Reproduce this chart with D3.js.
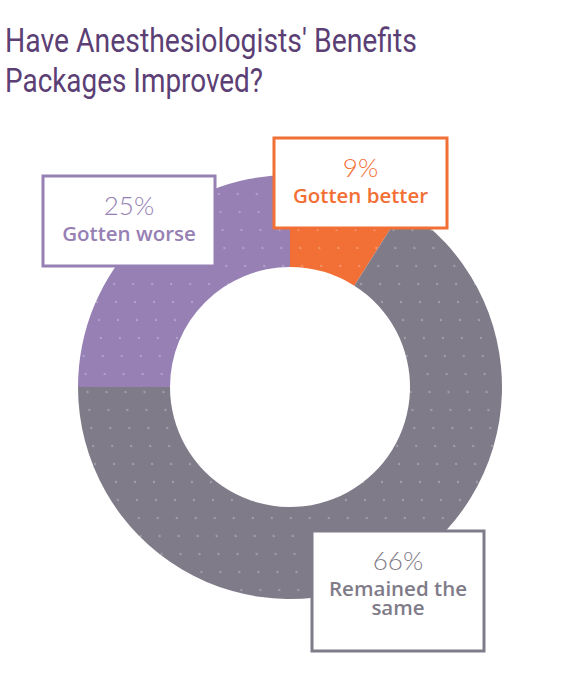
<!DOCTYPE html>
<html>
<head>
    <meta charset="UTF-8">
    <title>Benefits packages</title>
    <script src="https://cdn.jsdelivr.net/npm/d3@7"></script>
</head>
<style>
    body {
        margin: 0;
        padding: 0;
        background: #fff;
    }
</style>
<body>
<svg id="chart" width="580" height="690"></svg>
<script>
    // data
    var categories = ["Gotten better", "Remained the same", "Gotten worse"];
    var values = [9, 66, 25];
    var labelLines = [["Gotten better"], ["Remained the", "same"], ["Gotten worse"]];
    var colors = ["#f26f35", "#7f7b89", "#9680b4"];
    var titleLines = ["Have Anesthesiologists' Benefits", "Packages Improved?"];

    // label box layout (x, y, w, h)
    var boxes = [
        {x: 274, y: 138, w: 173, h: 90},
        {x: 312, y: 531, w: 172, h: 120},
        {x: 43, y: 176, w: 172, h: 90}
    ];

    var svg = d3.select("#chart"),
        cx = 290, cy = 387,
        outerRadius = 212, innerRadius = 120;

    // title
    var title = svg.append("g");
    title.selectAll("text")
        .data(titleLines)
        .enter().append("text")
        .attr("x", 5)
        .attr("y", function (d, i) { return 52 + i * 40; })
        .attr("fill", "#5b3f75")
        .style("font-family", "Roboto")
        .style("font-size", "34px")
        .text(function (d) { return d; })
        .attr("textLength", function (d, i) { return i == 0 ? 412 : 258; })
        .attr("lengthAdjust", "spacingAndGlyphs");

    // dotted texture
    var defs = svg.append("defs");
    var pat = defs.append("pattern")
        .attr("id", "dots")
        .attr("patternUnits", "userSpaceOnUse")
        .attr("width", 19)
        .attr("height", 18)
        .attr("patternTransform", "skewX(6)");
    pat.append("circle")
        .attr("cx", 6).attr("cy", 5).attr("r", 0.9)
        .attr("fill", "#fff").attr("opacity", 0.45);

    var pie = d3.pie().sort(null).value(function (d) { return d; });
    var arc = d3.arc().innerRadius(innerRadius).outerRadius(outerRadius);
    var arcs = pie(values);

    var g = svg.append("g").attr("transform", "translate(" + cx + "," + cy + ")");
    g.selectAll("path.slice")
        .data(arcs)
        .enter().append("path")
        .attr("class", "slice")
        .attr("d", arc)
        .attr("fill", function (d, i) { return colors[i]; });
    g.selectAll("path.tex")
        .data(arcs)
        .enter().append("path")
        .attr("class", "tex")
        .attr("d", arc)
        .attr("fill", "url(#dots)");

    // label boxes
    var lab = svg.append("g").selectAll("g")
        .data(arcs)
        .enter().append("g")
        .attr("transform", function (d, i) { return "translate(" + boxes[i].x + "," + boxes[i].y + ")"; });

    lab.append("rect")
        .attr("width", function (d, i) { return boxes[i].w; })
        .attr("height", function (d, i) { return boxes[i].h; })
        .attr("fill", "#fff")
        .attr("stroke", function (d, i) { return colors[i]; })
        .attr("stroke-width", 3);

    lab.append("text")
        .attr("x", function (d, i) { return boxes[i].w / 2; })
        .attr("y", 39)
        .attr("text-anchor", "middle")
        .attr("fill", function (d, i) { return colors[i]; })
        .style("font-family", "Lato")
        .style("font-weight", 300)
        .style("font-size", "26px")
        .text(function (d) { return d.data + "%"; });

    lab.each(function (d, i) {
        d3.select(this).selectAll("text.cat")
            .data(labelLines[i])
            .enter().append("text")
            .attr("class", "cat")
            .attr("x", boxes[i].w / 2)
            .attr("y", function (t, j) { return 65 + j * 19; })
            .attr("text-anchor", "middle")
            .attr("fill", colors[i])
            .style("font-family", "Open Sans")
            .style("font-weight", 600)
            .style("font-size", "20.5px")
            .text(function (t) { return t; });
    });
</script>
</body>
</html>
